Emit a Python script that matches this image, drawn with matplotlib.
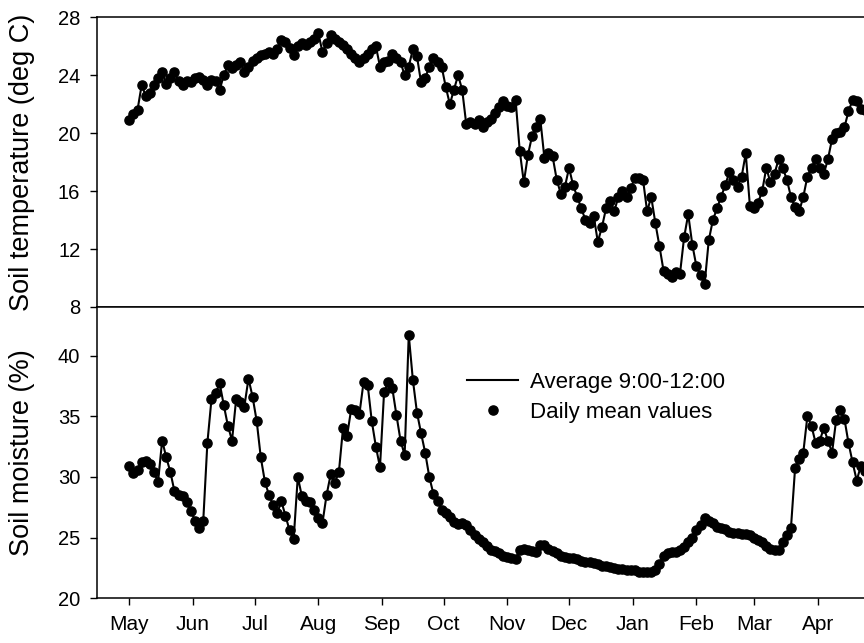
import numpy as np
import matplotlib
matplotlib.use("Agg")
import matplotlib.pyplot as plt

plt.rcParams['font.family'] = ['Liberation Sans', 'DejaVu Sans']

# values read every 2nd day, starting 1 May
temp = [20.9, 21.3, 21.6, 23.3, 22.6, 22.8, 23.3, 23.8, 24.2, 23.4,
        23.8, 24.2, 23.6, 23.3, 23.6, 23.5, 23.8, 23.9, 23.7, 23.3,
        23.7, 23.6, 23.0, 24.0, 24.7, 24.5, 24.7, 24.9, 24.2, 24.6,
        25.0, 25.2, 25.4, 25.5, 25.6, 25.5, 25.8, 26.4, 26.3, 25.9,
        25.4, 26.0, 26.2, 26.1, 26.3, 26.5, 26.9, 25.6, 26.2, 26.8,
        26.5, 26.3, 26.1, 25.8, 25.5, 25.2, 24.9, 25.2, 25.5, 25.8,
        26.0, 24.6, 24.9, 25.0, 25.5, 25.2, 24.9, 24.0, 24.6, 25.8,
        25.3, 23.5, 23.8, 24.6, 25.2, 24.9, 24.6, 23.2, 22.0, 23.0,
        24.0, 23.0, 20.6, 20.8, 20.6, 20.9, 20.4, 20.8, 21.0, 21.4,
        21.8, 22.2, 21.9, 21.8, 22.3, 18.8, 16.6, 18.5, 19.8, 20.4,
        21.0, 18.3, 18.6, 18.4, 16.8, 15.8, 16.3, 17.6, 16.4, 15.6,
        14.8, 14.0, 13.8, 14.3, 12.5, 13.5, 14.8, 15.3, 14.6, 15.6,
        16.0, 15.6, 16.2, 16.9, 16.9, 16.8, 14.6, 15.6, 13.8, 12.2,
        10.5, 10.3, 10.1, 10.4, 10.3, 12.8, 14.4, 12.3, 10.8, 10.2,
        9.6, 12.6, 14.0, 14.8, 15.6, 16.4, 17.3, 16.8, 16.3, 17.0,
        18.6, 15.0, 14.8, 15.2, 16.0, 17.6, 16.6, 17.2, 18.2, 17.6,
        16.8, 15.6, 14.9, 14.6, 15.6, 17.0, 17.6, 18.2, 17.6, 17.2,
        18.2, 19.6, 20.0, 20.1, 20.4, 21.5, 22.3, 22.2, 21.7, 21.6,
        21.5]

moist = [30.9, 30.3, 30.6, 31.2, 31.3, 31.1, 30.4, 29.6, 33.0, 31.6,
         30.4, 28.8, 28.5, 28.4, 27.9, 27.2, 26.4, 25.8, 26.4, 32.8,
         36.4, 36.9, 37.7, 35.9, 34.2, 33.0, 36.4, 36.2, 35.8, 38.1,
         36.6, 34.6, 31.6, 29.6, 28.5, 27.7, 27.0, 28.0, 26.8, 25.6,
         24.9, 30.0, 28.4, 28.0, 27.9, 27.3, 26.6, 26.2, 28.5, 30.2,
         29.5, 30.4, 34.0, 33.4, 35.6, 35.5, 35.2, 37.8, 37.6, 34.6,
         32.5, 30.8, 37.0, 37.8, 37.3, 35.1, 33.0, 31.8, 41.7, 38.0,
         35.3, 33.6, 32.0, 30.0, 28.6, 28.0, 27.3, 27.0, 26.7, 26.3,
         26.1, 26.2, 26.0, 25.6, 25.2, 24.9, 24.6, 24.3, 24.0, 23.9,
         23.7, 23.5, 23.4, 23.3, 23.2, 24.0, 24.1, 24.0, 23.9, 23.8,
         24.4, 24.4, 24.1, 23.9, 23.7, 23.5, 23.4, 23.3, 23.3, 23.2,
         23.1, 23.0, 23.0, 22.9, 22.8, 22.7, 22.7, 22.6, 22.5, 22.4,
         22.4, 22.3, 22.3, 22.3, 22.2, 22.2, 22.2, 22.2, 22.3, 22.8,
         23.5, 23.7, 23.8, 23.8, 24.0, 24.2, 24.6, 25.0, 25.6, 26.0,
         26.6, 26.4, 26.2, 25.9, 25.8, 25.7, 25.5, 25.4, 25.4, 25.3,
         25.3, 25.2, 25.0, 24.8, 24.6, 24.3, 24.1, 24.0, 24.0, 24.6,
         25.2, 25.8, 30.7, 31.5, 32.0, 35.0, 34.2, 32.8, 33.0, 34.0,
         33.0, 32.0, 34.7, 35.5, 34.8, 32.8, 31.2, 29.7, 30.9, 30.5,
         30.5]

days = np.arange(len(temp)) * 2

months = ['May', 'Jun', 'Jul', 'Aug', 'Sep', 'Oct', 'Nov', 'Dec', 'Jan', 'Feb', 'Mar', 'Apr']
month_start = [0, 31, 61, 92, 123, 153, 184, 214, 245, 276, 304, 335]

fig = plt.figure(figsize=(8.64, 6.43), dpi=100)
ax1 = fig.add_axes([0.1123, 0.5226, 0.943, 0.4505])
ax2 = fig.add_axes([0.1123, 0.0695, 0.943, 0.4531])

for ax, y in [(ax1, temp), (ax2, moist)]:
    ax.plot(days, y, color='black', lw=1.5, label='Average 9:00-12:00')
    ax.plot(days, y, 'o', color='black', ms=6.6, label='Daily mean values')
    ax.set_xlim(-15.7, 380.8)
    ax.set_xticks(month_start)
    ax.spines['right'].set_visible(False)
    ax.tick_params(direction='out', length=5, width=1, labelsize=14.5, pad=7)
    for s in ax.spines.values():
        s.set_linewidth(1.1)

ax1.set_ylim(8, 28)
ax1.set_yticks([8, 12, 16, 20, 24, 28])
ax1.set_xticklabels([])
ax1.set_ylabel('Soil temperature (deg C)', fontsize=19.5)
ax1.yaxis.set_label_coords(-0.076, 0.5)

ax2.set_ylim(20, 44)
ax2.set_yticks([20, 25, 30, 35, 40])
ax2.set_xticklabels(months, fontsize=15)
ax2.set_ylabel('Soil moisture (%)', fontsize=19.5)
ax2.yaxis.set_label_coords(-0.076, 0.5)

ax2.legend(loc='upper left', bbox_to_anchor=(0.5405, 0.4215), bbox_transform=fig.transFigure,
           frameon=False, fontsize=16, handlelength=2.3, handletextpad=0.55,
           borderpad=0, borderaxespad=0, labelspacing=0.4)

fig.savefig('out.png', dpi=100)
